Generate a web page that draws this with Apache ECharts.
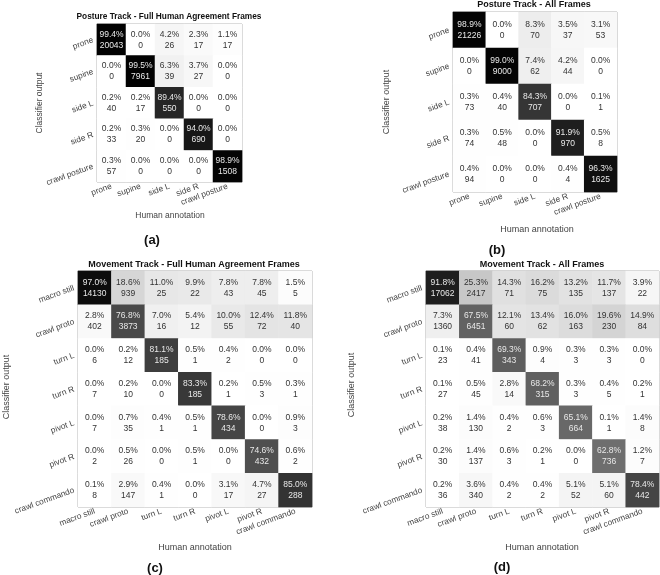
<!DOCTYPE html>
<html><head><meta charset="utf-8">
<script src="https://cdn.jsdelivr.net/npm/echarts@6/dist/echarts.min.js"></script>
<style>html,body{margin:0;padding:0;background:#fff}#c{width:660px;height:575px}</style>
</head><body><div id="c"></div><script>
// rows = classifier output, columns = human annotation
const postureCats = ['prone','supine','side L','side R','crawl posture'];
const movementCats = ['macro still','crawl proto','turn L','turn R','pivot L','pivot R','crawl commando'];

const aPct = [[99.4,0.0,4.2,2.3,1.1],[0.0,99.5,6.3,3.7,0.0],[0.2,0.2,89.4,0.0,0.0],[0.2,0.3,0.0,94.0,0.0],[0.3,0.0,0.0,0.0,98.9]];
const aCnt = [[20043,0,26,17,17],[0,7961,39,27,0],[40,17,550,0,0],[33,20,0,690,0],[57,0,0,0,1508]];
const bPct = [[98.9,0.0,8.3,3.5,3.1],[0.0,99.0,7.4,4.2,0.0],[0.3,0.4,84.3,0.0,0.1],[0.3,0.5,0.0,91.9,0.5],[0.4,0.0,0.0,0.4,96.3]];
const bCnt = [[21226,0,70,37,53],[0,9000,62,44,0],[73,40,707,0,1],[74,48,0,970,8],[94,0,0,4,1625]];
const cPct = [
[97.0,18.6,11.0,9.9,7.8,7.8,1.5],
[2.8,76.8,7.0,5.4,10.0,12.4,11.8],
[0.0,0.2,81.1,0.5,0.4,0.0,0.0],
[0.0,0.2,0.0,83.3,0.2,0.5,0.3],
[0.0,0.7,0.4,0.5,78.6,0.0,0.9],
[0.0,0.5,0.0,0.5,0.0,74.6,0.6],
[0.1,2.9,0.4,0.0,3.1,4.7,85.0]];
const cCnt = [
[14130,939,25,22,43,45,5],
[402,3873,16,12,55,72,40],
[6,12,185,1,2,0,0],
[7,10,0,185,1,3,1],
[7,35,1,1,434,0,3],
[2,26,0,1,0,432,2],
[8,147,1,0,17,27,288]];
const dPct = [
[91.8,25.3,14.3,16.2,13.2,11.7,3.9],
[7.3,67.5,12.1,13.4,16.0,19.6,14.9],
[0.1,0.4,69.3,0.9,0.3,0.3,0.0],
[0.1,0.5,2.8,68.2,0.3,0.4,0.2],
[0.2,1.4,0.4,0.6,65.1,0.1,1.4],
[0.2,1.4,0.6,0.2,0.0,62.8,1.2],
[0.2,3.6,0.4,0.4,5.1,5.1,78.4]];
const dCnt = [
[17062,2417,71,75,135,137,22],
[1360,6451,60,62,163,230,84],
[23,41,343,4,3,3,0],
[27,45,14,315,3,5,1],
[38,130,2,3,664,1,8],
[30,137,3,1,0,736,7],
[36,340,2,2,52,60,442]];

const panelTitles = ['Posture Track - Full Human Agreement Frames','Posture Track - All Frames','Movement Track - Full Human Agreement Frames','Movement Track - All Frames'];
const panelLetters = ['(a)','(b)','(c)','(d)'];
const xName = 'Human annotation';
const yName = 'Classifier output';

const FONT = '"Liberation Sans", Arial, Helvetica, sans-serif';
const panels = [
  {pct:aPct, cnt:aCnt, cats:postureCats, grid:{left:97, top:24, width:145, height:158},
   title:[169,17,8.3], yn:[40,103], xn:[170,216], lt:[152,240], fs:8.5},
  {pct:bPct, cnt:bCnt, cats:postureCats, grid:{left:453, top:12, width:164, height:180},
   title:[534,5,9], yn:[387,102], xn:[537,230], lt:[497,250], fs:9},
  {pct:cPct, cnt:cCnt, cats:movementCats, grid:{left:78, top:271, width:234, height:236},
   title:[194,265,9], yn:[7,387], xn:[195,548], lt:[155,568], fs:9},
  {pct:dPct, cnt:dCnt, cats:movementCats, grid:{left:426, top:271, width:233, height:236},
   title:[542,265,9], yn:[352,385], xn:[542,548], lt:[502,567], fs:9}
];

const grayStops = [];
for (let i = 0; i <= 20; i++) {
  const g = Math.round(255 * Math.pow(1 - i / 20, 0.85));
  grayStops.push('rgb(' + g + ',' + g + ',' + g + ')');
}

const grids = [], xAxes = [], yAxes = [], series = [], visualMaps = [], graphics = [];
panels.forEach((p, k) => {
  grids.push(Object.assign({show:true, borderColor:'#a0a0a0', borderWidth:1, backgroundColor:'#fff'}, p.grid));
  xAxes.push({type:'category', gridIndex:k, data:p.cats, axisLine:{show:false}, axisTick:{show:false}, splitLine:{show:false},
    axisLabel:{rotate:20, fontSize:8.3, color:'#444', margin:4, interval:0, fontFamily:FONT}});
  yAxes.push({type:'category', gridIndex:k, data:p.cats, inverse:true, axisLine:{show:false}, axisTick:{show:false}, splitLine:{show:false},
    axisLabel:{rotate:20, fontSize:8.3, color:'#444', margin:4, interval:0, fontFamily:FONT}});
  const data = [];
  p.pct.forEach((row, r) => row.forEach((v, c) => {
    data.push({value:[c, r, v, p.cnt[r][c]], label:{color: v > 50 ? '#e8e8e8' : '#333'}});
  }));
  series.push({type:'heatmap', xAxisIndex:k, yAxisIndex:k, data:data,
    itemStyle:{borderWidth:0},
    label:{show:true, fontSize:8.5, lineHeight:11, fontFamily:FONT,
      formatter: d => d.value[2].toFixed(1) + '%\n' + d.value[3]},
    emphasis:{disabled:true}});
  visualMaps.push({type:'continuous', show:false, seriesIndex:k, dimension:2, min:0, max:100, inRange:{color:grayStops}});
  graphics.push({type:'text', x:p.title[0], y:p.title[1], style:{text:panelTitles[k], fill:'#111', align:'center', verticalAlign:'middle', font:'bold ' + p.title[2] + 'px ' + FONT}});
  graphics.push({type:'text', x:p.yn[0], y:p.yn[1], rotation:Math.PI/2, style:{text:yName, fill:'#444', align:'center', verticalAlign:'middle', font:p.fs + 'px ' + FONT}});
  graphics.push({type:'text', x:p.xn[0], y:p.xn[1], style:{text:xName, fill:'#444', align:'center', verticalAlign:'middle', font:p.fs + 'px ' + FONT}});
  graphics.push({type:'text', x:p.lt[0], y:p.lt[1], style:{text:panelLetters[k], fill:'#111', align:'center', verticalAlign:'middle', font:'bold 13px ' + FONT}});
});

const chart = echarts.init(document.getElementById('c'), null, {renderer:'canvas'});
chart.setOption({
  animation:false,
  backgroundColor:'#fff',
  grid:grids, xAxis:xAxes, yAxis:yAxes, visualMap:visualMaps, series:series, graphic:graphics
});
</script></body></html>
